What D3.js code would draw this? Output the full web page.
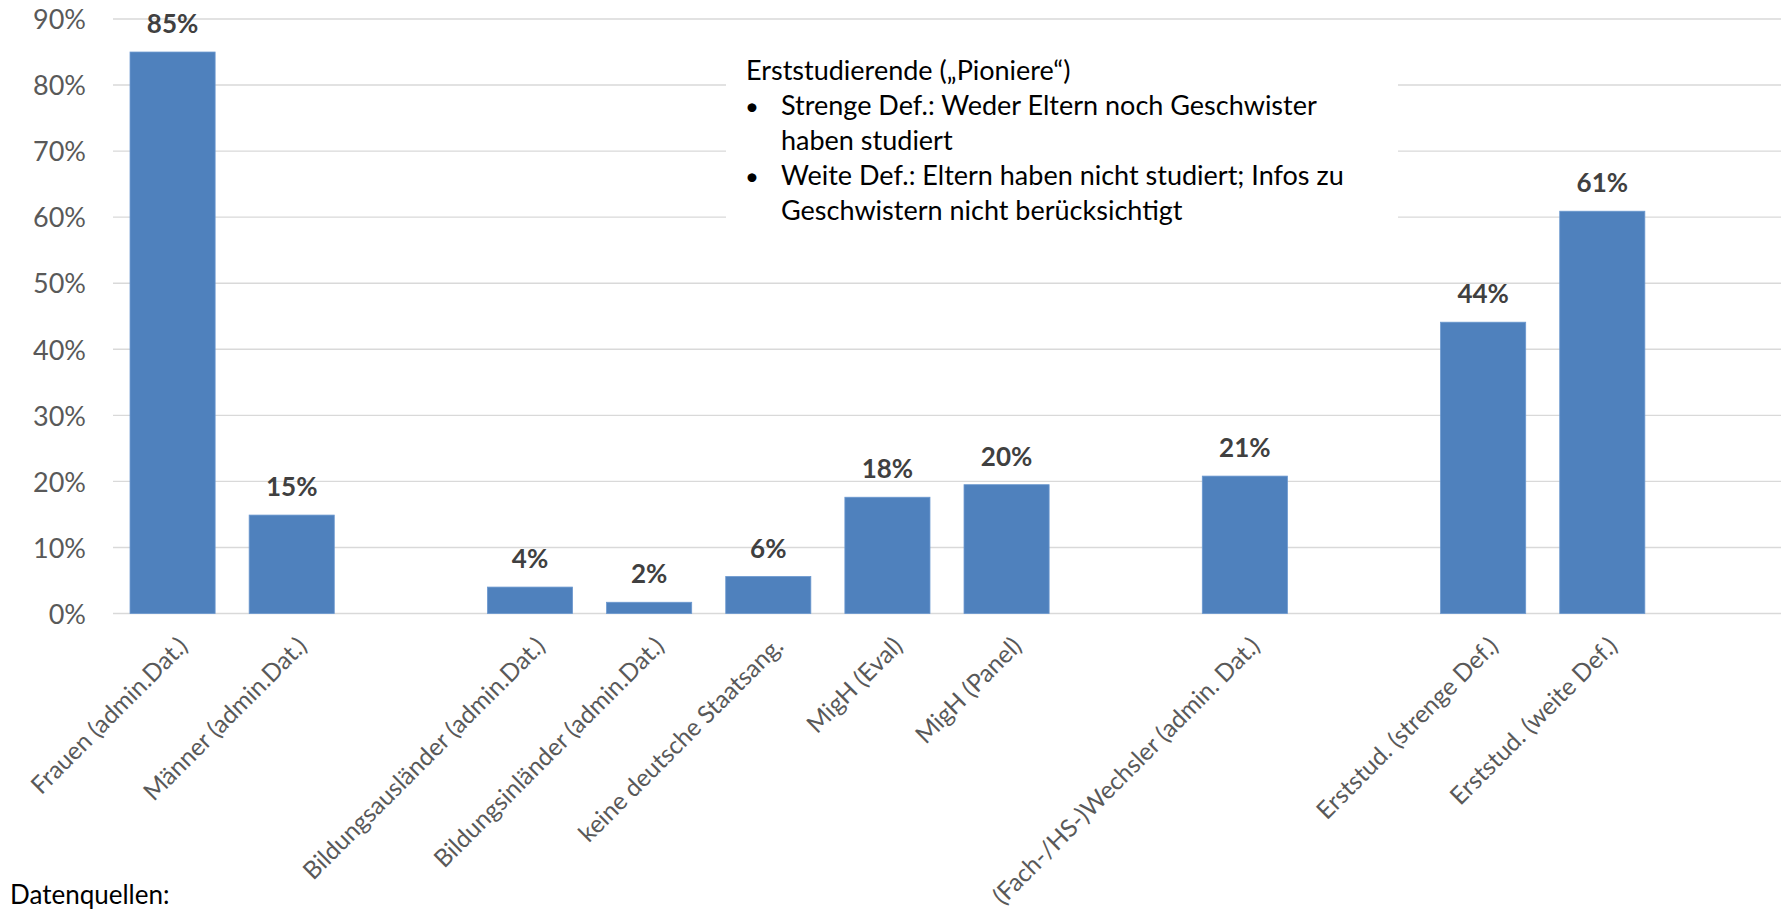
<!DOCTYPE html>
<html>
<head>
<meta charset="utf-8">
<script src="https://cdn.jsdelivr.net/npm/d3@7"></script>
<style>
  html, body { margin: 0; padding: 0; background: #fff; }
  svg { display: block; font-family: Lato, "Open Sans", sans-serif; }
</style>
</head>
<body>
<svg id="chart" width="1785" height="914"></svg>
<script>
// ---- data ----
const categories = [
  "Frauen (admin.Dat.)",
  "Männer (admin.Dat.)",
  "",
  "Bildungsausländer (admin.Dat.)",
  "Bildungsinländer (admin.Dat.)",
  "keine deutsche Staatsang.",
  "MigH (Eval)",
  "MigH (Panel)",
  "",
  "(Fach-/HS-)Wechsler (admin. Dat.)",
  "",
  "Erststud. (strenge Def.)",
  "Erststud. (weite Def.)",
  ""
];
const values = [0.85, 0.149, null, 0.040, 0.017, 0.056, 0.176, 0.195, null, 0.208, null, 0.441, 0.609, null];
const yTicks = [0, 0.1, 0.2, 0.3, 0.4, 0.5, 0.6, 0.7, 0.8, 0.9];
const noteTitle = "Erststudierende („Pioniere“)";
const noteBullets = [
  ["Strenge Def.: Weder Eltern noch Geschwister", "haben studiert"],
  ["Weite Def.: Eltern haben nicht studiert; Infos zu", "Geschwistern nicht berücksichtigt"]
];
const footer = "Datenquellen:";

// ---- layout ----
const svg = d3.select("#chart");
const plotLeft = 113, plotRight = 1781, plotTop = 19, plotBottom = 613.5;

const x = d3.scaleBand()
  .domain(d3.range(categories.length))
  .range([plotLeft, plotRight])
  .paddingInner(0.2857)
  .paddingOuter(0.14285);

const y = d3.scaleLinear().domain([0, 0.9]).range([plotBottom, plotTop]);
const pct = d3.format(".0%");

// gridlines
svg.append("g").selectAll("line")
  .data(yTicks)
  .join("line")
  .attr("x1", plotLeft).attr("x2", plotRight)
  .attr("y1", d => y(d)).attr("y2", d => y(d))
  .attr("stroke", "#d9d9d9")
  .attr("stroke-width", 1.4);

// y axis labels
const yAxis = d3.axisLeft(y).tickValues(yTicks).tickFormat(pct).tickSize(0).tickPadding(0);
const yg = svg.append("g").attr("transform", `translate(${86},0)`).call(yAxis);
yg.select(".domain").remove();
yg.selectAll("text")
  .attr("font-family", "Lato, sans-serif")
  .attr("font-size", 27)
  .attr("fill", "#595959")
  .attr("dy", "0.36em");

// annotation (white box over gridlines)
const note = svg.append("g");
note.append("rect")
  .attr("x", 726).attr("y", 30).attr("width", 672).attr("height", 222)
  .attr("fill", "#fff");
const lineH = 35;
const nt = note.append("text")
  .attr("font-family", "Lato, sans-serif")
  .attr("font-size", 27)
  .attr("fill", "#000");
nt.append("tspan").attr("x", 746).attr("y", 80).text(noteTitle);
let ln = 1;
noteBullets.forEach(b => {
  nt.append("tspan").attr("x", 745).attr("y", 80 + ln * lineH).attr("font-size", 24).text("•");
  b.forEach(t => {
    nt.append("tspan").attr("x", 781).attr("y", 80 + ln * lineH).text(t);
    ln++;
  });
});

// bars
const barData = categories.map((c, i) => ({ i, c, v: values[i] })).filter(d => d.v != null);
svg.append("g").selectAll("rect")
  .data(barData)
  .join("rect")
  .attr("x", d => x(d.i))
  .attr("width", x.bandwidth())
  .attr("y", d => y(d.v))
  .attr("height", d => y(0) - y(d.v))
  .attr("fill", "#4f81bd")
  .attr("stroke", "#6b98cf")
  .attr("stroke-width", 0.8);

// data labels
svg.append("g").selectAll("text")
  .data(barData)
  .join("text")
  .attr("x", d => x(d.i) + x.bandwidth() / 2)
  .attr("y", d => y(d.v) - 19)
  .attr("text-anchor", "middle")
  .attr("font-family", "Lato, sans-serif")
  .attr("font-weight", "bold")
  .attr("font-size", 26)
  .attr("fill", "#404040")
  .text(d => pct(d.v));

// x axis labels (rotated)
svg.append("g").selectAll("text")
  .data(categories.map((c, i) => ({ c, i })).filter(d => d.c !== ""))
  .join("text")
  .attr("transform", d => `translate(${x(d.i) + x.bandwidth() / 2 + 3},${634}) rotate(-45)`)
  .attr("text-anchor", "end")
  .attr("dominant-baseline", "hanging")
  .attr("font-family", "Lato, sans-serif")
  .attr("font-size", 24.5)
  .attr("fill", "#595959")
  .text(d => d.c);

// footer
svg.append("text")
  .attr("x", 10).attr("y", 904)
  .attr("font-family", "Lato, sans-serif")
  .attr("font-size", 26)
  .attr("fill", "#000")
  .text(footer);
</script>
</body>
</html>
